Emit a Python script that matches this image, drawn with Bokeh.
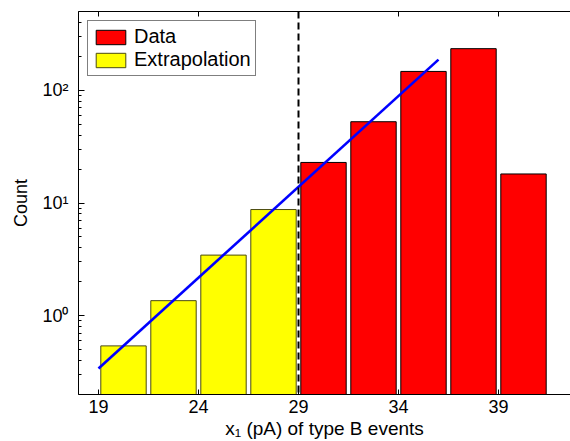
from bokeh.plotting import figure
from bokeh.models import (Range1d, LinearAxis, FixedTicker, CustomJSTickFormatter, Span)
from bokeh.embed import file_html
from bokeh.resources import INLINE

# ---- data ----
extrap_centers = [20.25, 22.75, 25.25, 27.75]
extrap_counts = [0.54, 1.36, 3.45, 8.75]
data_centers = [30.25, 32.75, 35.25, 37.75, 40.25]
data_counts = [22.9, 52.6, 147, 234, 18.1]
fit_x = [19.0, 36.0]
fit_y = [0.34, 187.0]
threshold_x = 29
x_ticks = [19, 24, 29, 34, 39]
y_major = [1, 10, 100]
y_minor = [0.2, 0.3, 0.4, 0.5, 0.6, 0.7, 0.8, 0.9,
           2, 3, 4, 5, 6, 7, 8, 9,
           20, 30, 40, 50, 60, 70, 80, 90,
           200, 300, 400, 500]

FONT = "Liberation Sans"

p = figure(width=570, height=441, output_backend="svg", toolbar_location=None,
           y_axis_type="log", x_range=Range1d(18, 42.6), y_range=Range1d(0.2, 500),
           min_border_left=78, min_border_right=0, min_border_top=11, min_border_bottom=45,
           x_axis_location=None)
p.outline_line_color = None
p.xgrid.visible = False
p.ygrid.visible = False
p.background_fill_color = "white"
p.border_fill_color = "white"

bar_w = 2.27
p.vbar(x=data_centers, top=data_counts, bottom=1e-3, width=bar_w,
       fill_color="#ff0000", line_color="black", line_width=1, legend_label="Data")
p.vbar(x=extrap_centers, top=extrap_counts, bottom=1e-3, width=bar_w,
       fill_color="#ffff00", line_color="#4a4a10", line_width=1, legend_label="Extrapolation")

p.add_layout(Span(location=threshold_x, dimension="height", line_color="black",
                  line_width=2, line_dash="7 4"))
p.line(fit_x, fit_y, line_color="#0000ff", line_width=2.6)

# bottom axis
xb = LinearAxis(ticker=FixedTicker(ticks=x_ticks))
xb.axis_label = "x\u2081 (pA) of type B events"
xb.major_tick_in = 5
xb.major_tick_out = 0
xb.minor_tick_line_color = None
xb.major_label_text_font = FONT
xb.major_label_text_font_size = "18px"
xb.major_label_text_color = "black"
xb.major_label_standoff = 5
xb.axis_label_text_font = FONT
xb.axis_label_text_font_size = "19px"
xb.axis_label_text_font_style = "normal"
xb.axis_label_text_color = "black"
xb.axis_label_standoff = 2
xb.axis_line_color = "black"
xb.major_tick_line_color = "black"
p.add_layout(xb, "below")

# top axis (box top with ticks)
xt = LinearAxis(ticker=FixedTicker(ticks=x_ticks))
xt.major_tick_in = 5
xt.major_tick_out = 0
xt.minor_tick_line_color = None
xt.major_label_text_font_size = "1px"
xt.major_label_text_color = None
xt.major_label_standoff = 0
xt.axis_line_color = "black"
xt.major_tick_line_color = "black"
p.add_layout(xt, "above")

# left log axis
ya = p.yaxis[0]
ya.ticker = FixedTicker(ticks=y_major, minor_ticks=y_minor)
ya.formatter = CustomJSTickFormatter(code="""
const sup = {'0':'\u2070','1':'\u00b9','2':'\u00b2','3':'\u00b3','-':'\u207b'};
const e = Math.round(Math.log10(tick));
return '10' + String(e).split('').map(c => sup[c]).join('');
""")
ya.axis_label = "Count"
ya.axis_label_text_font = FONT
ya.axis_label_text_font_size = "18px"
ya.axis_label_text_font_style = "normal"
ya.axis_label_text_color = "black"
ya.axis_label_standoff = 8
ya.major_label_text_font = FONT
ya.major_label_text_font_size = "18px"
ya.major_label_text_color = "black"
ya.major_label_standoff = 10
ya.major_tick_in = 6
ya.major_tick_out = 0
ya.minor_tick_in = 3
ya.minor_tick_out = 0
ya.axis_line_color = "black"
ya.major_tick_line_color = "black"
ya.minor_tick_line_color = "black"

lg = p.legend[0]
lg.location = "top_left"
lg.margin = 9
lg.padding = 4
lg.spacing = 0
lg.label_standoff = 5
lg.glyph_width = 37
lg.glyph_height = 18
lg.label_height = 18
lg.label_text_font = FONT
lg.label_text_font_size = "20px"
lg.label_text_color = "black"
lg.border_line_color = "black"
lg.border_line_width = 1
lg.background_fill_alpha = 1

open("out.html", "w", encoding="utf-8").write(file_html(p, INLINE))
